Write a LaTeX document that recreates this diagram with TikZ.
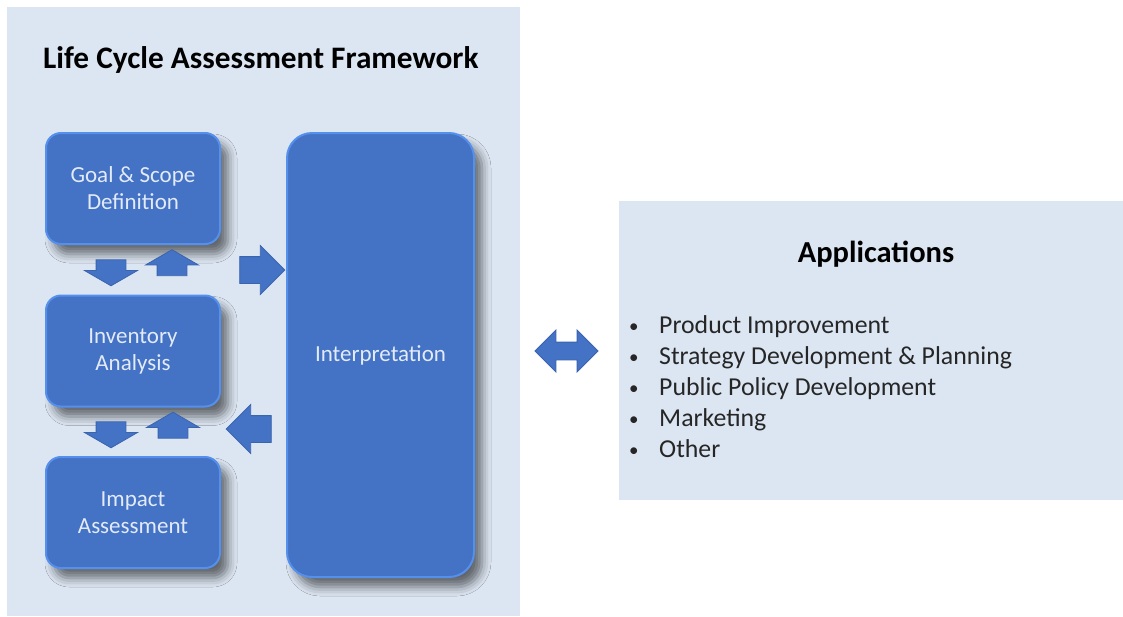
\documentclass[tikz,border=0pt]{standalone}
\usepackage{fontspec}
\setmainfont{Carlito}
\usetikzlibrary{shapes.arrows,shadows.blur}
\definecolor{panelblue}{HTML}{DCE6F2}
\definecolor{stageblue}{HTML}{4472C4}
\definecolor{stageedge}{HTML}{5590EC}
\definecolor{stagetext}{HTML}{E2EBF7}
\definecolor{arrowedge}{HTML}{3A64AE}
\definecolor{listtext}{HTML}{262626}
\tikzstyle{panel}=[rectangle,fill=panelblue,inner sep=0pt]
\tikzstyle{heading}=[font=\fontsize{30.5}{36}\selectfont\bfseries,text=black,inner sep=0pt]
\tikzstyle{stage}=[rectangle,rounded corners=15pt,fill=stageblue,draw=stageedge,line width=2pt,text=stagetext,align=center,inner sep=0pt,minimum width=174pt,minimum height=111pt,font=\fontsize{23}{27}\selectfont,blur shadow={shadow xshift=8pt,shadow yshift=-10pt,shadow blur radius=9pt,shadow opacity=55,shadow blur extra rounding=4pt}]
\tikzstyle{flow}=[single arrow,fill=stageblue,draw=arrowedge,line width=0.8pt,inner xsep=0pt,inner ysep=13pt,single arrow head extend=11pt,single arrow tip angle=90,minimum height=45pt,minimum width=48pt]
\tikzstyle{smallflow}=[single arrow,fill=stageblue,draw=arrowedge,line width=0.8pt,inner ysep=0pt,inner xsep=14.5pt,single arrow head extend=11.5pt,single arrow tip angle=120,minimum height=26pt,minimum width=52pt]
\tikzstyle{item}=[anchor=base west,font=\fontsize{25.8}{31}\selectfont,text=listtext,inner sep=0pt]
\newcommand{\appbullet}{\makebox[32pt][l]{\hspace{2pt}\raisebox{1pt}{\fontsize{19}{19}\selectfont\textbullet}}}

\begin{document}
\begin{tikzpicture}[x=1pt,y=-1pt]
\useasboundingbox (0,0) rectangle (1123,616);

\node[panel,minimum width=513pt,minimum height=609pt] (lcapanel) at (263.5,311.5) {};
\node[panel,minimum width=504pt,minimum height=299pt] (apppanel) at (871,350.5) {};

\node[heading,font=\fontsize{31.3}{36}\selectfont\bfseries,anchor=base west] (title) at (43,68) {Life Cycle Assessment Framework};

\node[stage] (goal) at (133,188.5) {Goal \& Scope\\Definition};
\node[stage] (inventory) at (133,351) {Inventory\\Analysis};
\node[stage] (impact) at (133,512.5) {Impact\\Assessment};
\node[stage,rounded corners=25pt,minimum width=187pt,minimum height=444pt] (interp) at (380.5,355) {Interpretation};

\node[smallflow,shape border rotate=270] (down1) at (111,268.5) {};
\node[smallflow,shape border rotate=90] (up1) at (172,267) {};
\node[smallflow,shape border rotate=270] (down2) at (111,430.5) {};
\node[smallflow,shape border rotate=90] (up2) at (173,429.5) {};

\node[flow] (toint) at (255.5,270) {};
\node[flow,shape border rotate=180] (fromint) at (255.5,429) {};

\node[double arrow,fill=stageblue,draw=arrowedge,line width=0.8pt,inner xsep=0pt,inner ysep=8.5pt,double arrow head extend=12pt,double arrow tip angle=90,minimum height=63pt,minimum width=41pt] (link) at (566.5,351) {};

\node[heading,anchor=base] (apptitle) at (876,262) {Applications};
\node[item] (app1) at (627,333) {\appbullet Product Improvement};
\node[item] (app2) at (627,364) {\appbullet Strategy Development \& Planning};
\node[item] (app3) at (627,395) {\appbullet Public Policy Development};
\node[item] (app4) at (627,426) {\appbullet Marketing};
\node[item] (app5) at (627,457) {\appbullet Other};

\end{tikzpicture}
\end{document}
